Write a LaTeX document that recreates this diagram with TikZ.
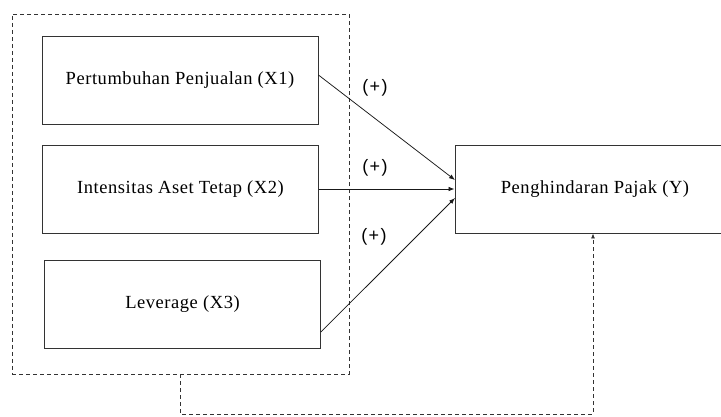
\documentclass[tikz,border=0pt]{standalone}
\usepackage{fontspec}
\setmainfont{Liberation Serif}[LetterSpace=3]
\newfontfamily\lblfont{Liberation Sans}[LetterSpace=8]
\usetikzlibrary{arrows.meta}
\begin{document}
\begin{tikzpicture}[x=1pt,y=-1pt,
  varbox/.style={draw=black!80, line width=0.9pt, fill=white, minimum width=276pt, minimum height=88pt, inner sep=0pt, font=\fontsize{18.5}{21}\selectfont},
  grp/.style={draw=black!80, line width=0.8pt, dash pattern=on 4pt off 3pt},
  link/.style={draw=black!90, line width=0.75pt, -{Latex[length=6pt,width=4.5pt]}},
  sign/.style={font=\lblfont\fontsize{18}{20}\selectfont, inner sep=0pt}]
\clip (0,0) rectangle (721,417);
\useasboundingbox (0,0) rectangle (721,417);
\node[grp, draw, minimum width=337pt, minimum height=360pt, inner sep=0pt] (g) at (180.5,194) {};
\node[varbox] (x1) at (180,80) {Pertumbuhan Penjualan (X1)};
\node[varbox] (x2) at (180.5,189) {Intensitas Aset Tetap (X2)};
\node[varbox] (x3) at (182.5,304) {Leverage (X3)};
\node[varbox, minimum width=280pt] (y) at (595,189) {Penghindaran Pajak (Y)};
\coordinate (t1) at (455,180);
\coordinate (t3) at (455,198);
\draw[link] (x1.east |- 0,75) -- (t1);
\draw[link] (x2.east |- 0,189) -- (y.west |- 0,189);
\draw[link] (x3.east |- 0,332) -- (t3);
\node[sign] (s1) at (375,88) {(+)};
\node[sign] (s2) at (375,168) {(+)};
\node[sign] (s3) at (374,237) {(+)};
\coordinate (c1) at (180,414);
\coordinate (c2) at (593,414);
\draw[grp, -{Latex[length=5pt,width=4pt]}] (g.south -| c1) -- (c1) -- (c2) -- (y.south -| c2);
\end{tikzpicture}
\end{document}
